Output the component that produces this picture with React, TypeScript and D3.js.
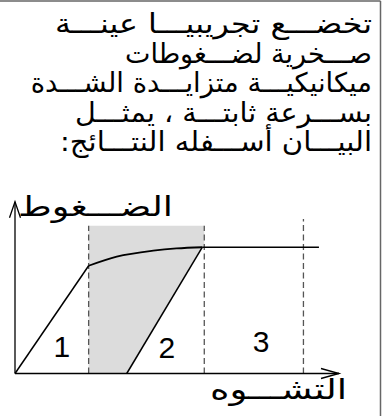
import React from "react";
import * as d3 from "d3";

const textLines = [
  "تخضـــع تجريبيـــا عينـــة",
  "صـــخرية لضـــغوطات",
  "ميكانيكيـــة متزايـــدة الشـــدة",
  "بســـرعة ثابتـــة ، يمثـــل",
  "البيـــان أســـفله النتـــائج:",
];
const yLabel = "الضـــغوط";
const xLabel = "التشـــوه";

// schematic stress-strain curve (x: strain 0..100, y: stress 0..100)
const elasticLine: [number, number][] = [[0, 0], [22.8, 62.7]];
const plasticCurve: [number, number][] = [
  [22.8, 62.7], [31.5, 68.0], [42.8, 71.5], [50, 72.8], [58.0, 73.5],
];
const flatLine: [number, number][] = [[58.0, 73.5], [94.1, 73.5]];
const unloadLine: [number, number][] = [[34.6, 0], [58.0, 73.5]];
const dashedX = [22.8, 58.6, 89.3];
const dashedTop = [86, 86, 89.9];
const shadeTop = 86;
const zoneLabels = ["1", "2", "3"];
const zoneLabelX = [14.5, 47.0, 76.2];
const zoneLabelY = [9.7, 9.0, 12.5];

const lineLeft = [55, 125, 30.7, 75, 60];
const textRight = 372;

export default function App() {
  const W = 382, H = 416;
  const x = d3.scaleLinear().domain([0, 100]).range([15, 338]);
  const y = d3.scaleLinear().domain([0, 100]).range([373.5, 201.7]);
  const line = d3.line<[number, number]>().x((d) => x(d[0])).y((d) => y(d[1]));
  const curve = d3.line<[number, number]>().x((d) => x(d[0])).y((d) => y(d[1])).curve(d3.curveMonotoneX);

  const shade: [number, number][] = [
    [dashedX[0], 0],
    [dashedX[0], shadeTop],
    [dashedX[1], shadeTop],
    [dashedX[1], unloadLine[1][1]],
    [unloadLine[1][0], unloadLine[1][1]],
    [unloadLine[0][0], 0],
  ];

  return (
    <svg width={W} height={H} style={{ position: "absolute", left: 0, top: 0, background: "#fff" }}>
      <rect x={0} y={0} width={W} height={H} fill="#fff" />
      <line x1={0} y1={1} x2={380.5} y2={1} stroke="#666" strokeWidth={1.5} />
      <line x1={380.5} y1={1} x2={380.5} y2={H} stroke="#666" strokeWidth={1.5} />
      {textLines.map((t, i) => (
        <text key={i} x={textRight} y={33 + i * 29.5} direction="rtl" textAnchor="start"
          textLength={textRight - lineLeft[i]} lengthAdjust="spacingAndGlyphs"
          fontFamily="DejaVu Sans" fontSize={27} fill="#000">{t}</text>
      ))}
      <path d={line(shade) + "Z"} fill="#dcdcdc" stroke="none" />
      {dashedX.map((dx, i) => (
        <line key={i} x1={x(dx)} x2={x(dx)} y1={y(0)} y2={y(dashedTop[i])}
          stroke="#555" strokeWidth={1.3} strokeDasharray="6,3.5" />
      ))}
      {/* axes */}
      <line x1={x(0)} y1={y(0)} x2={x(0)} y2={y(100)} stroke="#000" strokeWidth={1.3} />
      <line x1={x(0)} y1={y(0)} x2={x(100) + 1} y2={y(0)} stroke="#000" strokeWidth={1.3} />
      <path d={`M${x(0) - 5.5},${y(100) + 16} L${x(0)},${y(100)} L${x(0) + 5.5},${y(100) + 16}`} fill="none" stroke="#000" strokeWidth={1.3} />
      <path d={`M${x(100) - 17},${y(0) - 5} L${x(100) + 1},${y(0)} L${x(100) - 17},${y(0) + 5}`} fill="none" stroke="#000" strokeWidth={1.3} />
      <path d={line(elasticLine) || ""} fill="none" stroke="#000" strokeWidth={1.5} />
      <path d={curve(plasticCurve) || ""} fill="none" stroke="#000" strokeWidth={1.8} />
      <path d={line(flatLine) || ""} fill="none" stroke="#000" strokeWidth={1.3} />
      <path d={line(unloadLine) || ""} fill="none" stroke="#000" strokeWidth={1.5} />
      {zoneLabels.map((l, i) => (
        <text key={i} x={x(zoneLabelX[i])} y={y(zoneLabelY[i])} textAnchor="middle"
          fontFamily="Liberation Sans" fontSize={30} fill="#000">{l}</text>
      ))}
      <text x={173} y={216} direction="rtl" textAnchor="start" textLength={155} lengthAdjust="spacingAndGlyphs"
        fontFamily="DejaVu Sans" fontSize={28} fill="#000">{yLabel}</text>
      <text x={347} y={399} direction="rtl" textAnchor="start" textLength={137} lengthAdjust="spacingAndGlyphs"
        fontFamily="DejaVu Sans" fontSize={28} fill="#000">{xLabel}</text>
    </svg>
  );
}
